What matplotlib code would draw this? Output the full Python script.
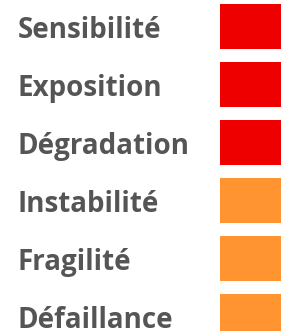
import matplotlib
matplotlib.use('Agg')
import matplotlib.pyplot as plt

# Données
libelles = ['Sensibilité', 'Exposition', 'Dégradation', 'Instabilité', 'Fragilité', 'Défaillance']
niveaux = ['rouge', 'rouge', 'rouge', 'orange', 'orange', 'orange']
couleurs = {'rouge': '#EE0000', 'orange': '#FF9430'}

fig = plt.figure(figsize=(2.81, 3.31), dpi=100)
ax = fig.add_axes([0, 0, 1, 1])
ax.set_xlim(0, 281)
ax.set_ylim(331, 0)
ax.axis('off')

pas = 58
centres = [26.5 + i * pas for i in range(len(libelles))]

ax.barh(centres, 61, height=45, left=220,
        color=[couleurs[n] for n in niveaux])

# texte aligné sur la ligne de base, un peu sous le centre du carré
for y, lib in zip(centres, libelles):
    ax.text(18, y + 11.5, lib, fontsize=20, fontweight='bold', family='Open Sans',
            color='#555555', va='baseline')

fig.savefig('out.png', dpi=100)
